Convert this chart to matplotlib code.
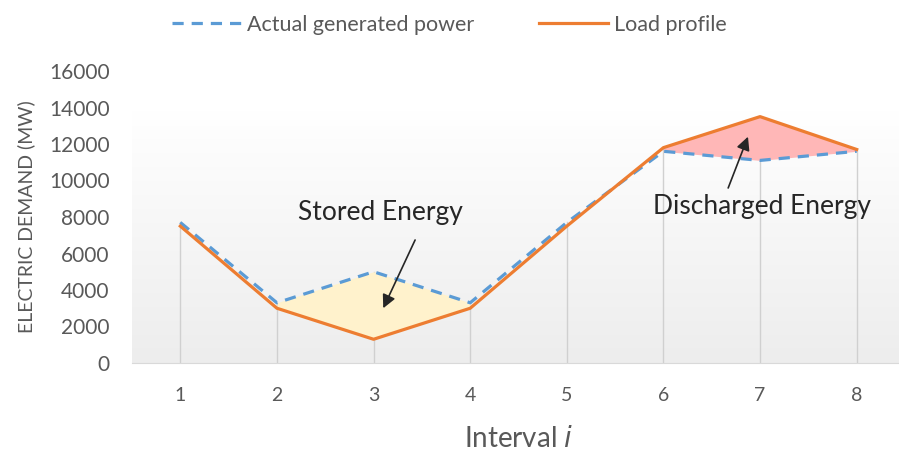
import numpy as np
import matplotlib
matplotlib.use("Agg")
import matplotlib.pyplot as plt
from matplotlib.lines import Line2D

plt.rcParams['font.family'] = ['Lato', 'DejaVu Sans']

intervals = [1, 2, 3, 4, 5, 6, 7, 8]
generated = [7700, 3300, 5000, 3300, 7700, 11600, 11100, 11600]
load = [7500, 3000, 1300, 3000, 7500, 11800, 13500, 11700]

blue = '#5B9BD5'
orange = '#ED7D31'
grey_text = '#595959'

fig = plt.figure(figsize=(8.99, 4.53), dpi=100)
ax = fig.add_axes([132/899, 1 - 363/453, 773/899, 292/453])
ax.set_xlim(0.5, 8.5)
ax.set_ylim(0, 16000)

# soft background gradient in the lower part of the plot area
grad = np.linspace(0, 1, 256).reshape(-1, 1)
cmap = matplotlib.colors.LinearSegmentedColormap.from_list('bg', ['#ededed', '#ffffff'])
ax.imshow(grad, extent=[0.5, 8.5, 0, 13800], origin='lower', aspect='auto',
          cmap=cmap, zorder=0)

# drop lines
for xi, gi, li in zip(intervals, generated, load):
    ax.plot([xi, xi], [0, max(gi, li)], color='#d0d0d0', lw=1, zorder=1)

x = np.array(intervals)
g = np.array(generated)
l = np.array(load)
ax.fill_between(x, g, l, where=(x >= 2) & (x <= 4), color='#FFF2CC', lw=0, zorder=2)
ax.fill_between(x, g, l, where=(x >= 6) & (x <= 8), color='#FFB7B7', lw=0, zorder=2)

ax.plot(x, g, color=blue, lw=2.3, dashes=(3.5, 2.5), zorder=3)
ax.plot(x, l, color=orange, lw=2.3, zorder=4)

arrow = dict(arrowstyle='-|>', color='#262626', lw=1.2, mutation_scale=20,
             shrinkA=0, shrinkB=0)
ax.text(3.07, 8220, 'Stored Energy', ha='center', va='center', fontsize=19,
        color='#262626', zorder=5)
ax.annotate('', xy=(3.10, 3000), xytext=(3.43, 6740), arrowprops=arrow, zorder=5)
ax.text(7.02, 8550, 'Discharged Energy', ha='center', va='center', fontsize=19,
        color='#262626', zorder=5)
ax.annotate('', xy=(6.875, 12400), xytext=(6.67, 9590), arrowprops=arrow, zorder=5)

ax.set_xticks(intervals)
ax.set_yticks(range(0, 16001, 2000))
ax.tick_params(axis='x', length=0, colors=grey_text, labelsize=14, pad=17)
ax.tick_params(axis='y', length=0, colors=grey_text, labelsize=15, pad=16)
for s in ['top', 'right', 'left']:
    ax.spines[s].set_visible(False)
ax.spines['bottom'].set_color('#d9d9d9')
ax.set_ylabel('ELECTRIC DEMAND (MW)', color=grey_text, fontsize=14, labelpad=10)
ax.set_xlabel('Interval $\\it{i}$', color=grey_text, fontsize=20, labelpad=16)

handles = [Line2D([], [], color=blue, lw=2.3, dashes=(3.5, 2.5)),
           Line2D([], [], color=orange, lw=2.3)]
fig.legend(handles, ['Actual generated power', 'Load profile'], loc='upper center',
           bbox_to_anchor=(0.5, 1.01), ncol=2, frameon=False, fontsize=15.5,
           labelcolor=grey_text, handlelength=3.2, columnspacing=3, handletextpad=0.3)

fig.savefig('out.png', dpi=100)
